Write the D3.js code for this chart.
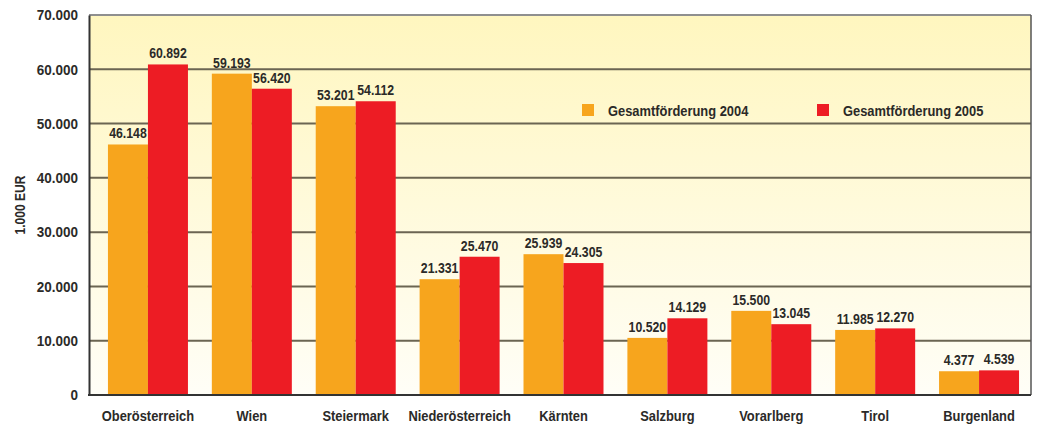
<!DOCTYPE html>
<html>
<head>
	<meta charset="utf-8">
	<script type="text/javascript" src="https://cdn.jsdelivr.net/npm/d3@7"></script>
	<style type="text/css">
		body { margin: 0; background: #fff; }
		text {
			font-family: "Liberation Sans", Arial, sans-serif;
			font-weight: bold;
			fill: #2b2a28;
		}
		.axis text { font-size: 15px; }
		.valText { font-size: 15px; text-anchor: middle; }
	</style>
</head>
<body>
<script type="text/javascript">
	var width = 1038;
	var height = 425;

	// data
	var regions = ["Oberösterreich", "Wien", "Steiermark", "Niederösterreich", "Kärnten", "Salzburg", "Vorarlberg", "Tirol", "Burgenland"];
	var foerderung2004 = [46148, 59193, 53201, 21331, 25939, 10520, 15500, 11985, 4377];
	var foerderung2005 = [60892, 56420, 54112, 25470, 24305, 14129, 13045, 12270, 4539];
	var seriesNames = ["Gesamtförderung 2004", "Gesamtförderung 2005"];
	var yTicks = [0, 10000, 20000, 30000, 40000, 50000, 60000, 70000];

	var colors = ["#f7a51d", "#ed1c24"];
	var plot = {left: 89, right: 1031, top: 15, bottom: 395};

	var fmt = function(v) {
		return d3.format(",")(v).replace(/,/g, ".");
	};

	// squeeze text horizontally to mimic a condensed font
	function condense(sel, k) {
		sel.each(function() {
			var t = d3.select(this);
			var x = +t.attr("x") || 0;
			var y = +t.attr("y") || 0;
			t.attr("x", 0).attr("y", 0)
				.attr("transform", "translate(" + x + "," + y + ") scale(" + k + ",1)");
		});
	}

	var svg = d3.select("body").append("svg")
		.attr("width", width)
		.attr("height", height);

	// background gradient
	var grad = svg.append("defs").append("linearGradient")
		.attr("id", "bg")
		.attr("x1", 0).attr("y1", 0).attr("x2", 0).attr("y2", 1);
	grad.append("stop").attr("offset", "0%").attr("stop-color", "#fff6bf");
	grad.append("stop").attr("offset", "100%").attr("stop-color", "#fffef7");

	svg.append("rect")
		.attr("x", plot.left)
		.attr("y", plot.top)
		.attr("width", plot.right - plot.left)
		.attr("height", plot.bottom - plot.top)
		.attr("fill", "url(#bg)");

	var xscale = d3.scaleBand()
		.domain(regions)
		.range([96, 1031]);

	var yscale = d3.scaleLinear()
		.domain([0, 70000])
		.range([plot.bottom, plot.top]);

	var barW = 40;

	// gridlines
	svg.append("g")
		.selectAll("line")
		.data(yTicks.slice(1))
		.enter()
		.append("line")
		.attr("x1", plot.left)
		.attr("x2", plot.right)
		.attr("y1", function(d){ return yscale(d); })
		.attr("y2", function(d){ return yscale(d); })
		.attr("stroke", function(d){ return d === 70000 ? "#8f8f8f" : "#6b6552"; })
		.attr("stroke-width", 2);

	// bars
	var series = [foerderung2004, foerderung2005];
	series.forEach(function(vals, s) {
		svg.append("g")
			.selectAll("rect")
			.data(vals)
			.enter()
			.append("rect")
			.attr("x", function(d, i){
				return xscale(regions[i]) + xscale.bandwidth()/2 - barW + s*barW;
			})
			.attr("y", function(d){ return yscale(d); })
			.attr("width", barW)
			.attr("height", function(d){ return yscale(0) - yscale(d); })
			.attr("fill", colors[s]);

		svg.append("g")
			.selectAll("text")
			.data(vals)
			.enter()
			.append("text")
			.attr("class", "valText")
			.attr("x", function(d, i){
				return xscale(regions[i]) + xscale.bandwidth()/2 - barW/2 + s*barW;
			})
			.attr("y", function(d){ return yscale(d) - 6; })
			.text(function(d){ return fmt(d); })
			.call(condense, 0.82);
	});

	// frame line right
	svg.append("line")
		.attr("x1", plot.right).attr("x2", plot.right)
		.attr("y1", plot.top).attr("y2", plot.bottom)
		.attr("stroke", "#555").attr("stroke-width", 1.5);

	// y axis
	var yAxis = d3.axisLeft(yscale)
		.tickValues(yTicks)
		.tickSize(0)
		.tickPadding(11)
		.tickFormat(fmt);
	var gy = svg.append("g")
		.attr("class", "axis")
		.attr("transform", "translate(" + plot.left + ",0)")
		.call(yAxis);
	gy.select(".domain").attr("stroke", "#333").attr("stroke-width", 2);
	gy.selectAll("text").call(condense, 0.9);

	// x axis
	var xAxis = d3.axisBottom(xscale)
		.tickSize(0)
		.tickPadding(15);
	var gx = svg.append("g")
		.attr("class", "axis")
		.attr("transform", "translate(0," + plot.bottom + ")")
		.call(xAxis);
	gx.select(".domain").remove();
	gx.selectAll("text").call(condense, 0.86);
	svg.append("line")
		.attr("x1", plot.left - 1).attr("x2", plot.right)
		.attr("y1", plot.bottom).attr("y2", plot.bottom)
		.attr("stroke", "#333").attr("stroke-width", 2);

	// axis title
	svg.append("text")
		.attr("transform", "translate(25,205) rotate(-90) scale(0.86,1)")
		.attr("text-anchor", "middle")
		.style("font-size", "14px")
		.text("1.000 EUR");

	// legend
	var legX = [582, 817];
	seriesNames.forEach(function(name, s) {
		svg.append("rect")
			.attr("x", legX[s]).attr("y", 104)
			.attr("width", 12).attr("height", 12)
			.attr("fill", colors[s]);
		svg.append("text")
			.attr("x", legX[s] + 26).attr("y", 116)
			.style("font-size", "15px")
			.text(name)
			.call(condense, 0.86);
	});
</script>
</body>
</html>
